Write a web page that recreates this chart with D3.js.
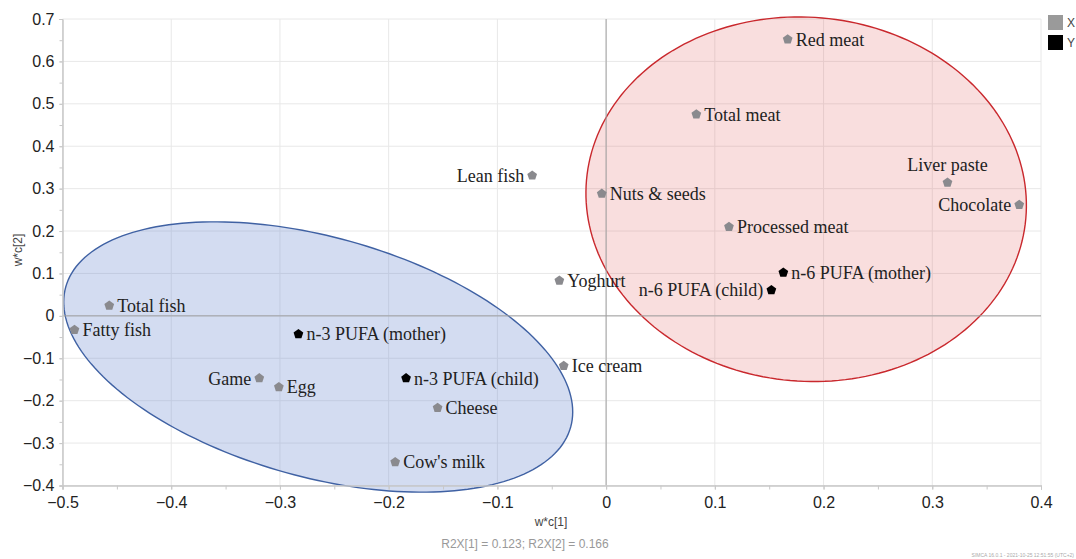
<!DOCTYPE html>
<html><head><meta charset="utf-8">
<script src="https://cdn.jsdelivr.net/npm/d3@7"></script>
<style>body{margin:0;background:#fff}svg{display:block}</style>
</head><body>
<svg id="c" width="1076" height="559"></svg>
<script>
// ---- data ----
const names = ["Red meat","Total meat","Lean fish","Nuts & seeds","Liver paste","Chocolate","Processed meat","Yoghurt","n-6 PUFA (mother)","n-6 PUFA (child)","Total fish","Fatty fish","n-3 PUFA (mother)","Ice cream","Game","Egg","n-3 PUFA (child)","Cheese","Cow's milk"];
const xVals = [0.167,0.083,-0.068,-0.004,0.314,0.380,0.113,-0.043,0.163,0.152,-0.457,-0.489,-0.283,-0.039,-0.319,-0.301,-0.184,-0.155,-0.194];
const yVals = [0.652,0.475,0.331,0.288,0.314,0.262,0.210,0.083,0.102,0.061,0.024,-0.033,-0.043,-0.118,-0.147,-0.168,-0.147,-0.217,-0.345];
const groups = ["X","X","X","X","X","X","X","X","Y","Y","X","X","Y","X","X","X","Y","X","X"];
const xTicks = [-0.5,-0.4,-0.3,-0.2,-0.1,0,0.1,0.2,0.3,0.4];
const yTicks = [-0.4,-0.3,-0.2,-0.1,0,0.1,0.2,0.3,0.4,0.5,0.6,0.7];
const legendItems = ["X","Y"];
const leftLabels = ["Lean fish","Game","Chocolate","n-6 PUFA (child)"];
const aboveLabels = ["Liver paste"];

const svg = d3.select("#c");
const x = d3.scaleLinear().domain([-0.5,0.4]).range([62.5,1041]);
const y = d3.scaleLinear().domain([-0.4,0.7]).range([485.5,19]);

// grid
const g = svg.append("g");
g.selectAll(".gx").data(xTicks).join("line")
  .attr("x1",d=>x(d)).attr("x2",d=>x(d)).attr("y1",y(0.7)).attr("y2",y(-0.4))
  .attr("stroke","#e8e8e8").attr("stroke-width",1);
g.selectAll(".gy").data(yTicks).join("line")
  .attr("y1",d=>y(d)).attr("y2",d=>y(d)).attr("x1",x(-0.5)).attr("x2",x(0.4))
  .attr("stroke","#e8e8e8").attr("stroke-width",1);

// ellipses (pixel-space rotated ellipses centred on data coordinates)
function ellipse(cx, cy, a, b, angDeg, fill, stroke){
  const th = angDeg*Math.PI/180, pts=[];
  const px = x(cx), py = y(cy);
  for(let i=0;i<=200;i++){
    const t = i/200*2*Math.PI;
    const ex = a*Math.cos(t), ey = b*Math.sin(t);
    pts.push([px + ex*Math.cos(th) - ey*Math.sin(th), py + ex*Math.sin(th) + ey*Math.cos(th)]);
  }
  svg.append("path").attr("d", d3.line()(pts)+"Z")
    .attr("fill",fill).attr("stroke",stroke).attr("stroke-width",1.4);
}
ellipse(-0.2648,-0.097,262,120,15.5,"rgba(110,140,210,0.30)","#3f61a3");
ellipse(0.184,0.275,220.5,182,5,"rgba(225,80,80,0.19)","#c9282d");

// zero lines
svg.append("line").attr("x1",x(-0.5)).attr("x2",x(0.4)).attr("y1",y(0)).attr("y2",y(0)).attr("stroke","#a0a0a0").attr("stroke-width",1);
svg.append("line").attr("x1",x(0)).attr("x2",x(0)).attr("y1",y(0.7)).attr("y2",y(-0.4)).attr("stroke","#a0a0a0").attr("stroke-width",1);

// axes
const minorX = d3.range(-0.5,0.401,0.05);
const minorY = d3.range(-0.4,0.701,0.05);
const xAxis = svg.append("g").attr("transform",`translate(0,${y(-0.4)})`)
  .call(d3.axisBottom(x).tickValues(minorX).tickSize(4).tickFormat(""));
xAxis.append("g").call(d3.axisBottom(x).tickValues(xTicks).tickSize(4).tickFormat(d=>d3.format("")(+d.toFixed(1))));
const yAxis = svg.append("g").attr("transform",`translate(${x(-0.5)},0)`)
  .call(d3.axisLeft(y).tickValues(minorY).tickSize(3).tickFormat(""));
yAxis.append("g").call(d3.axisLeft(y).tickValues(yTicks).tickSize(3).tickFormat(d=>d3.format("")(+d.toFixed(1))));
svg.selectAll(".domain").attr("stroke","#c8c8c8");
svg.selectAll(".tick line").attr("stroke","#c8c8c8");
svg.selectAll(".tick text").attr("font-family","Liberation Sans, Arial, sans-serif").attr("font-size",16).attr("fill","#222");
xAxis.selectAll(".tick text").attr("dy","0.95em");
yAxis.selectAll(".tick text").attr("dx","-2");

// pentagon symbol
const pentagon = {draw(ctx,size){
  const r = Math.sqrt(size/2.378);
  for(let i=0;i<5;i++){
    const a = -Math.PI/2 + i*2*Math.PI/5;
    const px = r*Math.cos(a), py = r*Math.sin(a);
    if(i===0) ctx.moveTo(px,py); else ctx.lineTo(px,py);
  }
  ctx.closePath();
}};
const sym = d3.symbol().type(pentagon).size(62);
const colorOf = {X:"#8a8a8e", Y:"#000000"};
const pts = names.map((n,i)=>({n, x:xVals[i], y:yVals[i], g:groups[i]}));

svg.append("g").selectAll("path").data(pts).join("path")
  .attr("d",sym).attr("transform",d=>`translate(${x(d.x)},${y(d.y)})`)
  .attr("fill",d=>colorOf[d.g]);

svg.append("g").selectAll("text").data(pts).join("text")
  .attr("x",d=> aboveLabels.includes(d.n) ? x(d.x) : leftLabels.includes(d.n) ? x(d.x)-8 : x(d.x)+8)
  .attr("y",d=> aboveLabels.includes(d.n) ? y(d.y)-18 : y(d.y))
  .attr("dy","0.35em")
  .attr("text-anchor",d=> aboveLabels.includes(d.n) ? "middle" : leftLabels.includes(d.n) ? "end" : "start")
  .attr("font-family","Liberation Serif, Times New Roman, serif").attr("font-size",18).attr("fill","#222")
  .text(d=>d.n);

// axis titles
svg.append("text").attr("x",551).attr("y",526).attr("text-anchor","middle")
  .attr("font-family","Liberation Sans, Arial, sans-serif").attr("font-size",12).attr("fill","#444").text("w*c[1]");
svg.append("text").attr("transform","translate(22,250) rotate(-90)").attr("text-anchor","middle")
  .attr("font-family","Liberation Sans, Arial, sans-serif").attr("font-size",12).attr("fill","#444").text("w*c[2]");
svg.append("text").attr("x",525).attr("y",548).attr("text-anchor","middle")
  .attr("font-family","Liberation Sans, Arial, sans-serif").attr("font-size",12).attr("fill","#999").text("R2X[1] = 0.123; R2X[2] = 0.166");
svg.append("text").attr("x",1074).attr("y",557).attr("text-anchor","end")
  .attr("font-family","Liberation Sans, Arial, sans-serif").attr("font-size",5).attr("fill","#aaa").text("SIMCA 16.0.1 - 2021-10-25 12:51:55 (UTC+2)");

// legend
const lg = svg.append("g").selectAll("g").data(legendItems).join("g")
  .attr("transform",(d,i)=>`translate(1048,${15+i*20})`);
lg.append("rect").attr("width",15).attr("height",15).attr("fill",d=>d==="X"?"#9a9a9a":"#000");
lg.append("text").attr("x",19).attr("y",8).attr("dy","0.35em")
  .attr("font-family","Liberation Sans, Arial, sans-serif").attr("font-size",12).attr("fill","#444").text(d=>d);
</script>
</body></html>
